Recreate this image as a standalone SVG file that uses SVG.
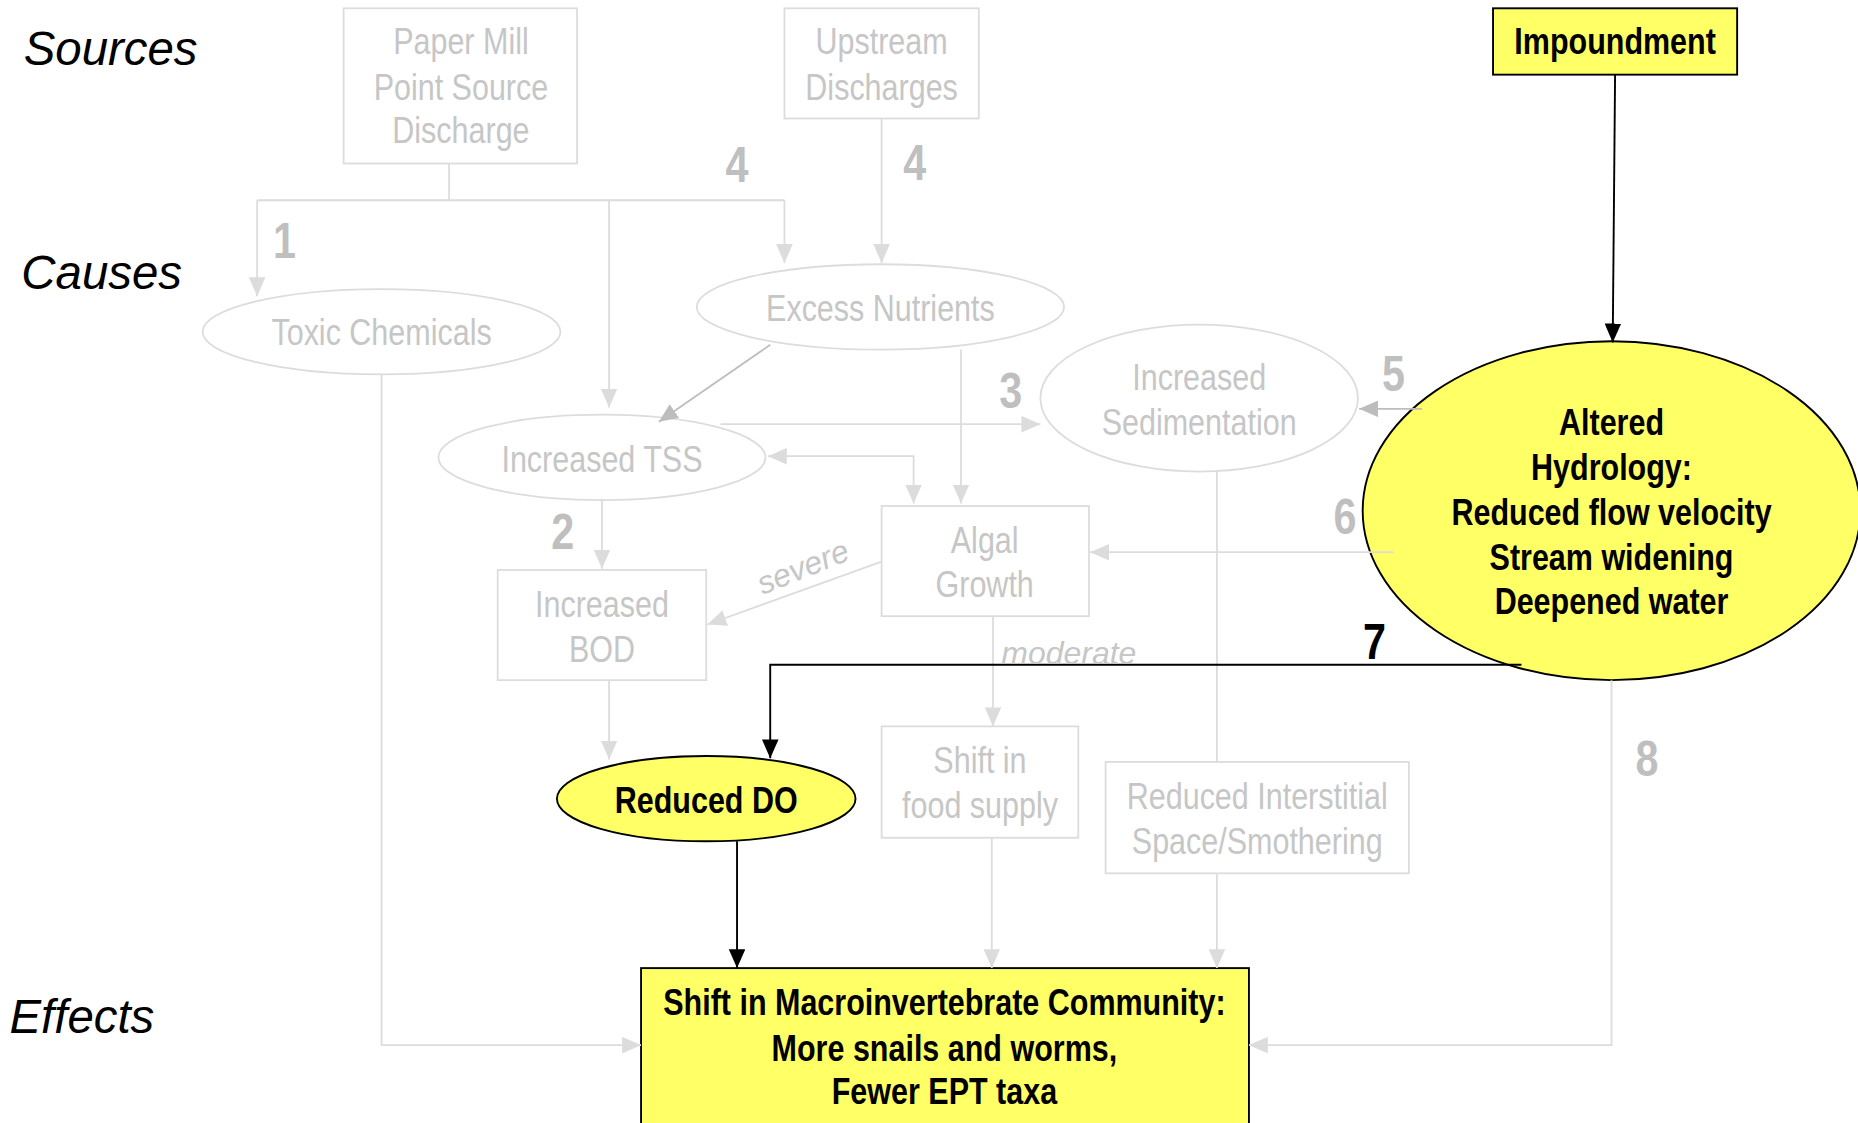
<svg xmlns="http://www.w3.org/2000/svg" width="1858" height="1123" viewBox="0 0 1858 1123">
  <style>
    .bg { fill: #ffffff; }
    .tier { font-family: "Liberation Sans", Arial, sans-serif; font-style: italic; font-size: 40px; fill: #000; }
    .gbox { fill: #ffffff; stroke: #dcdcdc; stroke-width: 1.5; }
    .ybox { fill: #ffff66; stroke: #000; stroke-width: 1.6; }
    /* narrow face: regular sans squeezed horizontally about each label's own centre */
    .gt, .bt, .num { font-family: "Liberation Sans", Arial, sans-serif; text-anchor: middle;
      transform-box: fill-box; transform-origin: center; transform: scaleX(0.83); }
    .gt { font-size: 31px; fill: #c6c6c6; }
    .bt { font-size: 31px; font-weight: bold; fill: #000; }
    .num { font-size: 42px; font-weight: bold; fill: #bfbfbf; }
    .num7 { fill: #000; }
    .qual { font-family: "Liberation Sans", Arial, sans-serif; font-style: italic; font-size: 27px; fill: #c6c6c6; }
    .g { fill: none; stroke: #dcdcdc; stroke-width: 1.5; marker-end: url(#ag); }
    .gd { fill: none; stroke: #bdbdbd; stroke-width: 1.5; marker-end: url(#ad); }
    .k { fill: none; stroke: #000; stroke-width: 1.6; marker-end: url(#ak); }
    .plain { fill: none; stroke: #dcdcdc; stroke-width: 1.5; }
  </style>
  <defs>
    <marker id="ag" markerUnits="userSpaceOnUse" viewBox="0 0 16 14" refX="16" refY="7" markerWidth="16" markerHeight="14" orient="auto">
      <path d="M0,0 L16,7 L0,14 z" fill="#dcdcdc"/>
    </marker>
    <marker id="ad" markerUnits="userSpaceOnUse" viewBox="0 0 16 14" refX="16" refY="7" markerWidth="16" markerHeight="14" orient="auto">
      <path d="M0,0 L16,7 L0,14 z" fill="#bdbdbd"/>
    </marker>
    <marker id="ak" markerUnits="userSpaceOnUse" viewBox="0 0 16 14" refX="16" refY="7" markerWidth="16" markerHeight="14" orient="auto">
      <path d="M0,0 L16,7 L0,14 z" fill="#000"/>
    </marker>
    <marker id="agStart" markerUnits="userSpaceOnUse" viewBox="0 0 16 14" refX="16" refY="7" markerWidth="16" markerHeight="14" orient="auto-start-reverse">
      <path d="M0,0 L16,7 L0,14 z" fill="#dcdcdc"/>
    </marker>
  </defs>

  <rect class="bg" x="0" y="0" width="1858" height="1123"/>

  <g transform="scale(1.18495)">
    <!-- tier labels -->
    <g id="tiers">
      <text class="tier" x="20" y="55">Sources</text>
      <text class="tier" x="18" y="244">Causes</text>
      <text class="tier" x="8" y="872">Effects</text>
    </g>

    <!-- nodes -->
    <g id="paper-mill">
      <rect class="gbox" x="290" y="7" width="197" height="131"/>
      <text class="gt" x="389" y="46">Paper Mill</text>
      <text class="gt" x="389" y="84">Point Source</text>
      <text class="gt" x="389" y="121">Discharge</text>
    </g>
    <g id="upstream">
      <rect class="gbox" x="662" y="7" width="164" height="93"/>
      <text class="gt" x="744" y="46">Upstream</text>
      <text class="gt" x="744" y="84">Discharges</text>
    </g>
    <g id="impoundment">
      <rect class="ybox" x="1260" y="7" width="206" height="56"/>
      <text class="bt" x="1363" y="46">Impoundment</text>
    </g>
    <g id="toxic">
      <ellipse class="gbox" cx="322" cy="280" rx="151" ry="36"/>
      <text class="gt" x="322" y="291">Toxic Chemicals</text>
    </g>
    <g id="nutrients">
      <ellipse class="gbox" cx="743" cy="259" rx="155" ry="36"/>
      <text class="gt" x="743" y="271">Excess Nutrients</text>
    </g>
    <g id="sedimentation">
      <ellipse class="gbox" cx="1012" cy="336" rx="134" ry="62"/>
      <text class="gt" x="1012" y="329">Increased</text>
      <text class="gt" x="1012" y="367">Sedimentation</text>
    </g>
    <g id="tss">
      <ellipse class="gbox" cx="508" cy="386" rx="138" ry="36"/>
      <text class="gt" x="508" y="398">Increased TSS</text>
    </g>
    <g id="algal">
      <rect class="gbox" x="744" y="427" width="175" height="93"/>
      <text class="gt" x="831" y="467">Algal</text>
      <text class="gt" x="831" y="504">Growth</text>
    </g>
    <g id="bod">
      <rect class="gbox" x="420" y="481" width="176" height="93"/>
      <text class="gt" x="508" y="521">Increased</text>
      <text class="gt" x="508" y="559">BOD</text>
    </g>
    <g id="hydrology">
      <ellipse class="ybox" cx="1360" cy="431" rx="210" ry="143"/>
      <text class="bt" x="1360" y="367">Altered</text>
      <text class="bt" x="1360" y="405">Hydrology:</text>
      <text class="bt" x="1360" y="443">Reduced flow velocity</text>
      <text class="bt" x="1360" y="481">Stream widening</text>
      <text class="bt" x="1360" y="518">Deepened water</text>
    </g>
    <g id="reduced-do">
      <ellipse class="ybox" cx="596" cy="674" rx="126" ry="36"/>
      <text class="bt" x="596" y="686">Reduced DO</text>
    </g>
    <g id="food-supply">
      <rect class="gbox" x="744" y="613" width="166" height="94"/>
      <text class="gt" x="827" y="652">Shift in</text>
      <text class="gt" x="827" y="690">food supply</text>
    </g>
    <g id="interstitial">
      <rect class="gbox" x="933" y="643" width="256" height="94"/>
      <text class="gt" x="1061" y="683">Reduced Interstitial</text>
      <text class="gt" x="1061" y="721">Space/Smothering</text>
    </g>
    <g id="macroinvertebrates">
      <rect class="ybox" x="541" y="817" width="513" height="140"/>
      <text class="bt" x="797" y="857">Shift in Macroinvertebrate Community:</text>
      <text class="bt" x="797" y="895">More snails and worms,</text>
      <text class="bt" x="797" y="932">Fewer EPT taxa</text>
    </g>

    <!-- connectors -->
    <g id="connectors">
      <!-- paper mill branches -->
      <path class="plain" d="M379,138 V169 M217,169 H662"/>
      <path class="g" d="M217,169 V250"/>
      <path class="g" d="M514,169 V344"/>
      <path class="g" d="M662,169 V222"/>
      <!-- upstream -->
      <path class="g" d="M744,100 V222"/>
      <!-- nutrients -->
      <path class="gd" d="M650,291 L556,356"/>
      <path class="g" d="M811,295 V425"/>
      <!-- TSS -->
      <path class="g" d="M608,358 H878"/>
      <path class="g" d="M648,385 H771 V425" marker-start="url(#agStart)"/>
      <path class="g" d="M508,421 V480"/>
      <!-- algal -->
      <path class="g" d="M744,474 L597,527"/>
      <path class="g" d="M838,520 V613"/>
      <!-- sedimentation / interstitial -->
      <path class="plain" d="M1027,398 V643"/>
      <path class="g" d="M1027,737 V817"/>
      <!-- BOD, food supply -->
      <path class="g" d="M514,574 V641"/>
      <path class="g" d="M837,707 V817"/>
      <!-- toxic to community -->
      <path class="g" d="M322,316 V882 H541"/>
      <!-- hydrology -->
      <path class="gd" d="M1200,345 H1147"/>
      <path class="g" d="M1176,466 H920"/>
      <path class="g" d="M1360,574 V882 H1054"/>
      <path class="k" d="M1284,561 H650 V640"/>
      <path class="k" d="M1363,63 L1361,289"/>
      <path class="k" d="M622,710 V817"/>
    </g>

    <!-- connector labels -->
    <g id="labels">
      <text class="num" x="240" y="218">1</text>
      <text class="num" x="622" y="154">4</text>
      <text class="num" x="772" y="152">4</text>
      <text class="num" x="853" y="344">3</text>
      <text class="num" x="475" y="463">2</text>
      <text class="num" x="1176" y="330">5</text>
      <text class="num" x="1135" y="451">6</text>
      <text class="num num7" x="1160" y="556">7</text>
      <text class="num" x="1390" y="655">8</text>
      <text class="qual" x="681" y="487" text-anchor="middle" transform="rotate(-22 681 487)">severe</text>
      <text class="qual" x="845" y="560">moderate</text>
    </g>
  </g>
</svg>
